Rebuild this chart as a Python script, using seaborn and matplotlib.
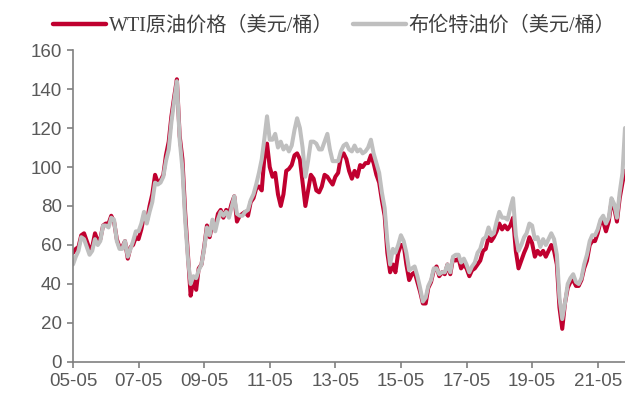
import numpy as np
import pandas as pd
import matplotlib
matplotlib.use('Agg')
import matplotlib.pyplot as plt
import matplotlib.dates as mdates
import seaborn as sns

# monthly readings, 2005-05 .. 2022-03 (USD/bbl)
start_month = '2005-05-01'
end_month = '2022-03-01'

wti = [56, 58, 59, 65, 66, 62, 58, 59,
       66, 62, 63, 70, 71, 71, 75, 72, 63, 59, 59, 62,
       53, 59, 60, 64, 63, 68, 75, 72, 80, 86, 96, 92,
       93, 96, 106, 113, 126, 136, 145, 116, 104, 77, 55, 34,
       42, 37, 48, 50, 59, 70, 64, 71, 69, 76, 78, 74,
       78, 76, 81, 85, 72, 75, 76, 77, 75, 82, 84, 89,
       90, 88, 104, 112, 100, 95, 97, 86, 80, 86, 98, 99,
       101, 106, 107, 104, 92, 80, 88, 96, 94, 88, 87, 90,
       96, 95, 93, 91, 95, 97, 105, 107, 104, 98, 94, 98,
       95, 101, 100, 102, 102, 106, 102, 96, 92, 83, 75, 56,
       46, 50, 46, 56, 60, 60, 50, 42, 45, 46, 41, 36,
       30, 30, 38, 41, 47, 49, 44, 46, 45, 50, 45, 53,
       52, 53, 48, 50, 48, 44, 47, 48, 50, 52, 57, 58,
       64, 62, 64, 67, 71, 68, 70, 68, 70, 74, 57, 48,
       52, 56, 59, 64, 61, 54, 57, 55, 57, 54, 57, 60,
       57, 50, 28, 17, 30, 38, 41, 42, 39, 39, 42, 48,
       52, 60, 62, 62, 66, 72, 72, 67, 72, 82, 79, 72,
       84, 92, 98]

brent = [50, 54, 57, 64, 63, 59, 55, 57,
         63, 60, 62, 70, 70, 69, 74, 73, 62, 58, 58, 62,
         54, 58, 62, 67, 67, 71, 77, 71, 77, 82, 92, 91,
         92, 95, 103, 109, 123, 134, 144, 114, 99, 73, 53, 40,
         44, 43, 47, 50, 58, 69, 65, 73, 67, 73, 77, 75,
         77, 74, 79, 85, 76, 75, 75, 77, 78, 83, 86, 91,
         97, 104, 114, 126, 114, 114, 117, 110, 113, 109, 111, 108,
         111, 119, 125, 120, 110, 95, 103, 113, 113, 112, 109, 109,
         113, 117, 109, 103, 103, 103, 108, 111, 112, 109, 108, 111,
         108, 109, 107, 108, 110, 114, 107, 102, 97, 87, 79, 62,
         50, 58, 56, 60, 65, 62, 56, 47, 48, 49, 44, 38,
         31, 33, 39, 42, 48, 48, 45, 46, 46, 50, 46, 54,
         55, 55, 51, 53, 50, 46, 49, 51, 56, 58, 63, 64,
         69, 65, 66, 72, 77, 74, 74, 73, 79, 84, 65, 57,
         60, 64, 66, 71, 70, 63, 64, 59, 63, 60, 63, 66,
         63, 55, 33, 22, 30, 40, 43, 45, 41, 40, 43, 50,
         55, 62, 65, 65, 68, 73, 75, 71, 74, 84, 81, 74,
         87, 97, 120]

series_names = ['WTI原油价格（美元/桶）', '布伦特油价（美元/桶）']
tick_dates = ['2005-05-01', '2007-05-01', '2009-05-01', '2011-05-01', '2013-05-01',
              '2015-05-01', '2017-05-01', '2019-05-01', '2021-05-01']
y_ticks = [0, 20, 40, 60, 80, 100, 120, 140, 160]

dates = pd.date_range(start_month, end_month, freq='MS')
df = pd.concat([
    pd.DataFrame({'date': dates, 'price': wti, 'name': series_names[0]}),
    pd.DataFrame({'date': dates, 'price': brent, 'name': series_names[1]}),
])

sns.set_style('ticks')
plt.rcParams['font.family'] = ['Liberation Sans', 'Noto Sans CJK SC']

fig = plt.figure(figsize=(6.25, 3.96), dpi=100)
ax = fig.add_axes([0.1168, 0.0859, 0.8832, 0.7878])

sns.lineplot(data=df, x='date', y='price', hue='name', hue_order=series_names,
             palette=['#C0002F', '#BFBFBF'], lw=2.9, ax=ax, legend=False)

ax.set_xlim(pd.Timestamp(start_month), pd.Timestamp(end_month))
ax.set_ylim(0, 160)
ax.set_yticks(y_ticks)
ax.set_xticks(pd.to_datetime(tick_dates))
ax.xaxis.set_major_formatter(mdates.DateFormatter('%y-%m'))
ax.set_xlabel('')
ax.set_ylabel('')

for s in ['top', 'right']:
    ax.spines[s].set_visible(False)
for s in ['left', 'bottom']:
    ax.spines[s].set_color('#808080')
    ax.spines[s].set_linewidth(1.2)
ax.tick_params(axis='both', direction='out', length=4, width=1.2, color='#808080',
               labelsize=13.5, labelcolor='#595959', pad=4)

handles = [plt.Line2D([], [], color='#C0002F', lw=3.2),
           plt.Line2D([], [], color='#BFBFBF', lw=3.2)]
fig.legend(handles, series_names, loc='upper center', bbox_to_anchor=(0.535, 1.005),
           ncol=2, frameon=False, handlelength=2.6, handletextpad=0.15, columnspacing=1.0,
           prop={'family': ['Liberation Serif', 'Noto Sans CJK SC'], 'size': 14.5},
           labelcolor='#404040')

plt.savefig('out.png', dpi=100)
